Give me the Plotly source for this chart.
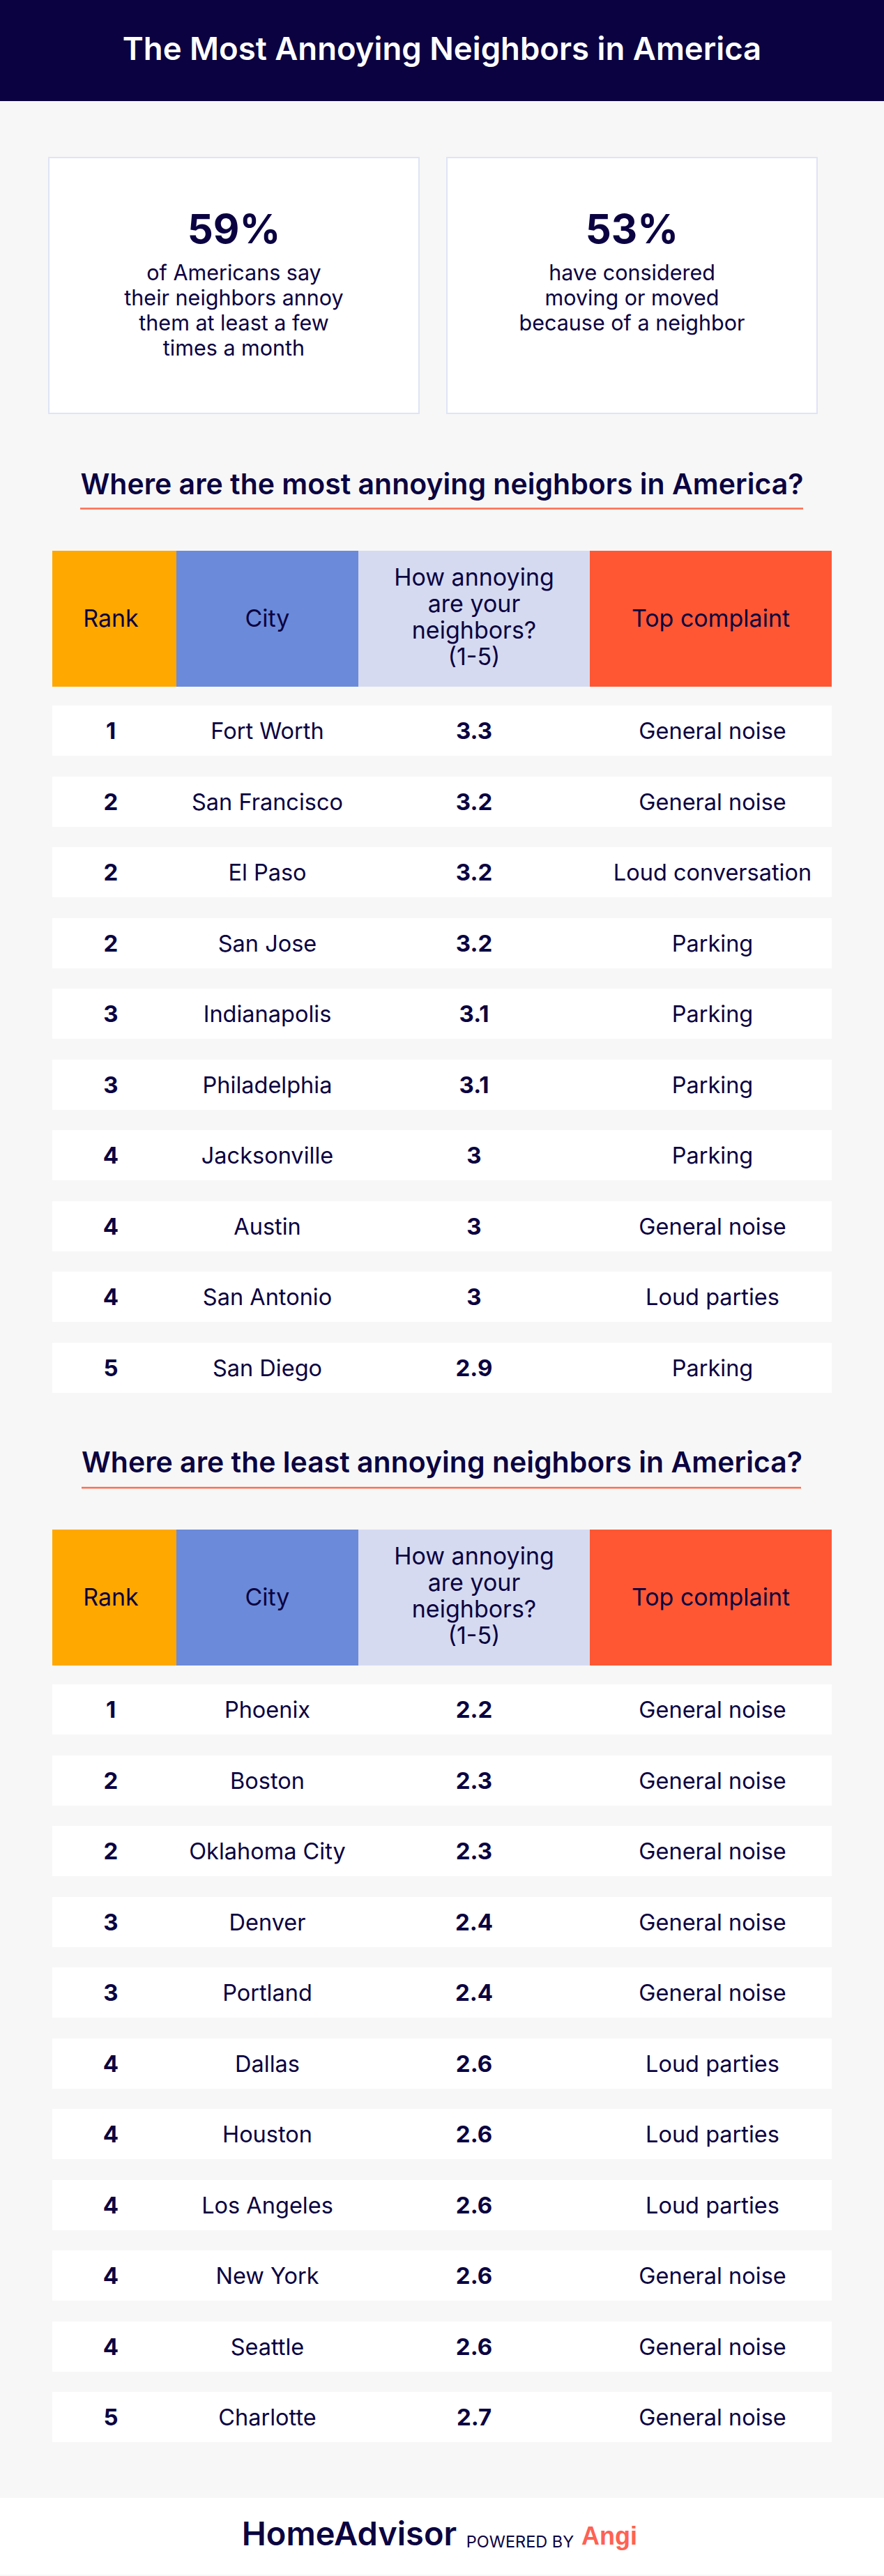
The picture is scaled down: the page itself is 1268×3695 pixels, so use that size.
import plotly.graph_objects as go

# table contents
most_ranks = [1, 2, 2, 2, 3, 3, 4, 4, 4, 5]
most_cities = ["Fort Worth", "San Francisco", "El Paso", "San Jose", "Indianapolis", "Philadelphia",
               "Jacksonville", "Austin", "San Antonio", "San Diego"]
most_scores = [3.3, 3.2, 3.2, 3.2, 3.1, 3.1, 3.0, 3.0, 3.0, 2.9]
most_complaints = ["General noise", "General noise", "Loud conversation", "Parking", "Parking", "Parking",
                   "Parking", "General noise", "Loud parties", "Parking"]

least_ranks = [1, 2, 2, 3, 3, 4, 4, 4, 4, 4, 5]
least_cities = ["Phoenix", "Boston", "Oklahoma City", "Denver", "Portland", "Dallas", "Houston",
                "Los Angeles", "New York", "Seattle", "Charlotte"]
least_scores = [2.2, 2.3, 2.3, 2.4, 2.4, 2.6, 2.6, 2.6, 2.6, 2.6, 2.7]
least_complaints = ["General noise", "General noise", "General noise", "General noise", "General noise",
                    "Loud parties", "Loud parties", "Loud parties", "General noise", "General noise",
                    "General noise"]

col_labels = ["Rank", "City", "Top complaint"]
score_label = ["How annoying", "are your", "neighbors?", "(1-5)"]
col_colors = ["#FFA800", "#6B8AD9", "#D5DAF0", "#FF5733"]
col_edges = [75, 253, 514, 846, 1193]

title = "The Most Annoying Neighbors in America"
stat_values = ["59%", "53%"]
stat_left = ["of Americans say", "their neighbors annoy", "them at least a few", "times a month"]
stat_right = ["have considered", "moving or moved", "because of a neighbor"]

NAVY = "#0B0341"
CORAL = "#FF6B4E"
FONT = "Inter"

fig = go.Figure()
shapes = []


def add_text(x, y, text, size, weight=400, color=NAVY, family=FONT):
    # plotly sets the text box a little high, so push it down with the font size
    y = [v + size * 0.12 for v in y]
    fig.add_trace(go.Scatter(x=x, y=y, text=text, mode="text", textposition="middle center",
                             textfont=dict(family=family, size=size, color=color, weight=weight),
                             showlegend=False, hoverinfo="skip"))


def add_table(top, heading, heading_y, line_x, line_y, ranks, cities, scores, complaints):
    add_text([634], [heading_y], [heading], 41, 600)
    shapes.append(dict(type="line", x0=line_x[0], x1=line_x[1], y0=line_y, y1=line_y,
                       line=dict(color=CORAL, width=2.5), layer="below"))

    centers = [(a + b) / 2 for a, b in zip(col_edges, col_edges[1:])]
    widths = [b - a for a, b in zip(col_edges, col_edges[1:])]
    fig.add_trace(go.Bar(x=centers, y=[195] * 4, base=[top] * 4, width=widths,
                         marker=dict(color=col_colors, line_width=0), showlegend=False, hoverinfo="skip"))
    add_text([159, centers[1], centers[3]], [top + 96] * 3, col_labels, 34)
    add_text([centers[2]] * 4, [top + 37 + i * 38 for i in range(4)], score_label, 34)

    row_y = [top + 258 + i * 101.5 for i in range(len(ranks))]
    fig.add_trace(go.Bar(y=row_y, x=[col_edges[-1] - col_edges[0]] * len(ranks), base=[col_edges[0]] * len(ranks),
                         width=72, orientation="h", marker=dict(color="white", line_width=0),
                         showlegend=False, hoverinfo="skip"))
    add_text([159] * len(ranks), row_y, [str(r) for r in ranks], 33, 700)
    add_text([centers[1]] * len(ranks), row_y, cities, 32.5)
    add_text([centers[2]] * len(ranks), row_y, [f"{s:g}" for s in scores], 33, 700)
    add_text([1022] * len(ranks), row_y, complaints, 32.5)


# header band, footer band and the two stat cards
shapes.append(dict(type="rect", x0=0, x1=1268, y0=0, y1=145, fillcolor=NAVY, line_width=0, layer="below"))
shapes.append(dict(type="rect", x0=0, x1=1268, y0=3583, y1=3693, fillcolor="white", line_width=0, layer="below"))
for x0, x1 in [(70, 601), (641, 1172)]:
    shapes.append(dict(type="rect", x0=x0, x1=x1, y0=226, y1=593, fillcolor="white",
                       line=dict(color="#DFE4F5", width=2), layer="below"))

add_text([634], [69], [title], 45.5, 600, "white")
add_text([335.5, 906.5], [328, 328], stat_values, 58, 700)
add_text([335.5] * 4, [391 + i * 36 for i in range(4)], stat_left, 30.5)
add_text([906.5] * 3, [391 + i * 36 for i in range(3)], stat_right, 30.5)

add_table(790, "Where are the most annoying neighbors in America?", 694, (115, 1152), 729.5,
          most_ranks, most_cities, most_scores, most_complaints)
add_table(2194, "Where are the least annoying neighbors in America?", 2097, (117, 1149), 2134,
          least_ranks, least_cities, least_scores, least_complaints)

# footer logo text
add_text([501], [3634], ["HomeAdvisor"], 47, 600)
add_text([746], [3645], ["POWERED BY"], 23.5)
add_text([874], [3637], ["Angi"], 36, 700, "#FF6153", "Liberation Sans")

fig.update_layout(
    width=1268, height=3695, margin=dict(l=0, r=0, t=0, b=0),
    paper_bgcolor="#F7F7F7", plot_bgcolor="rgba(0,0,0,0)",
    barmode="overlay", bargap=0, hovermode=False, showlegend=False, shapes=shapes,
    xaxis=dict(range=[0, 1268], visible=False, fixedrange=True),
    yaxis=dict(range=[3695, 0], visible=False, fixedrange=True),
)

fig.write_html("out.html", config=dict(displayModeBar=False),
               post_script="document.body.style.margin='0';document.documentElement.style.overflow='hidden';")
